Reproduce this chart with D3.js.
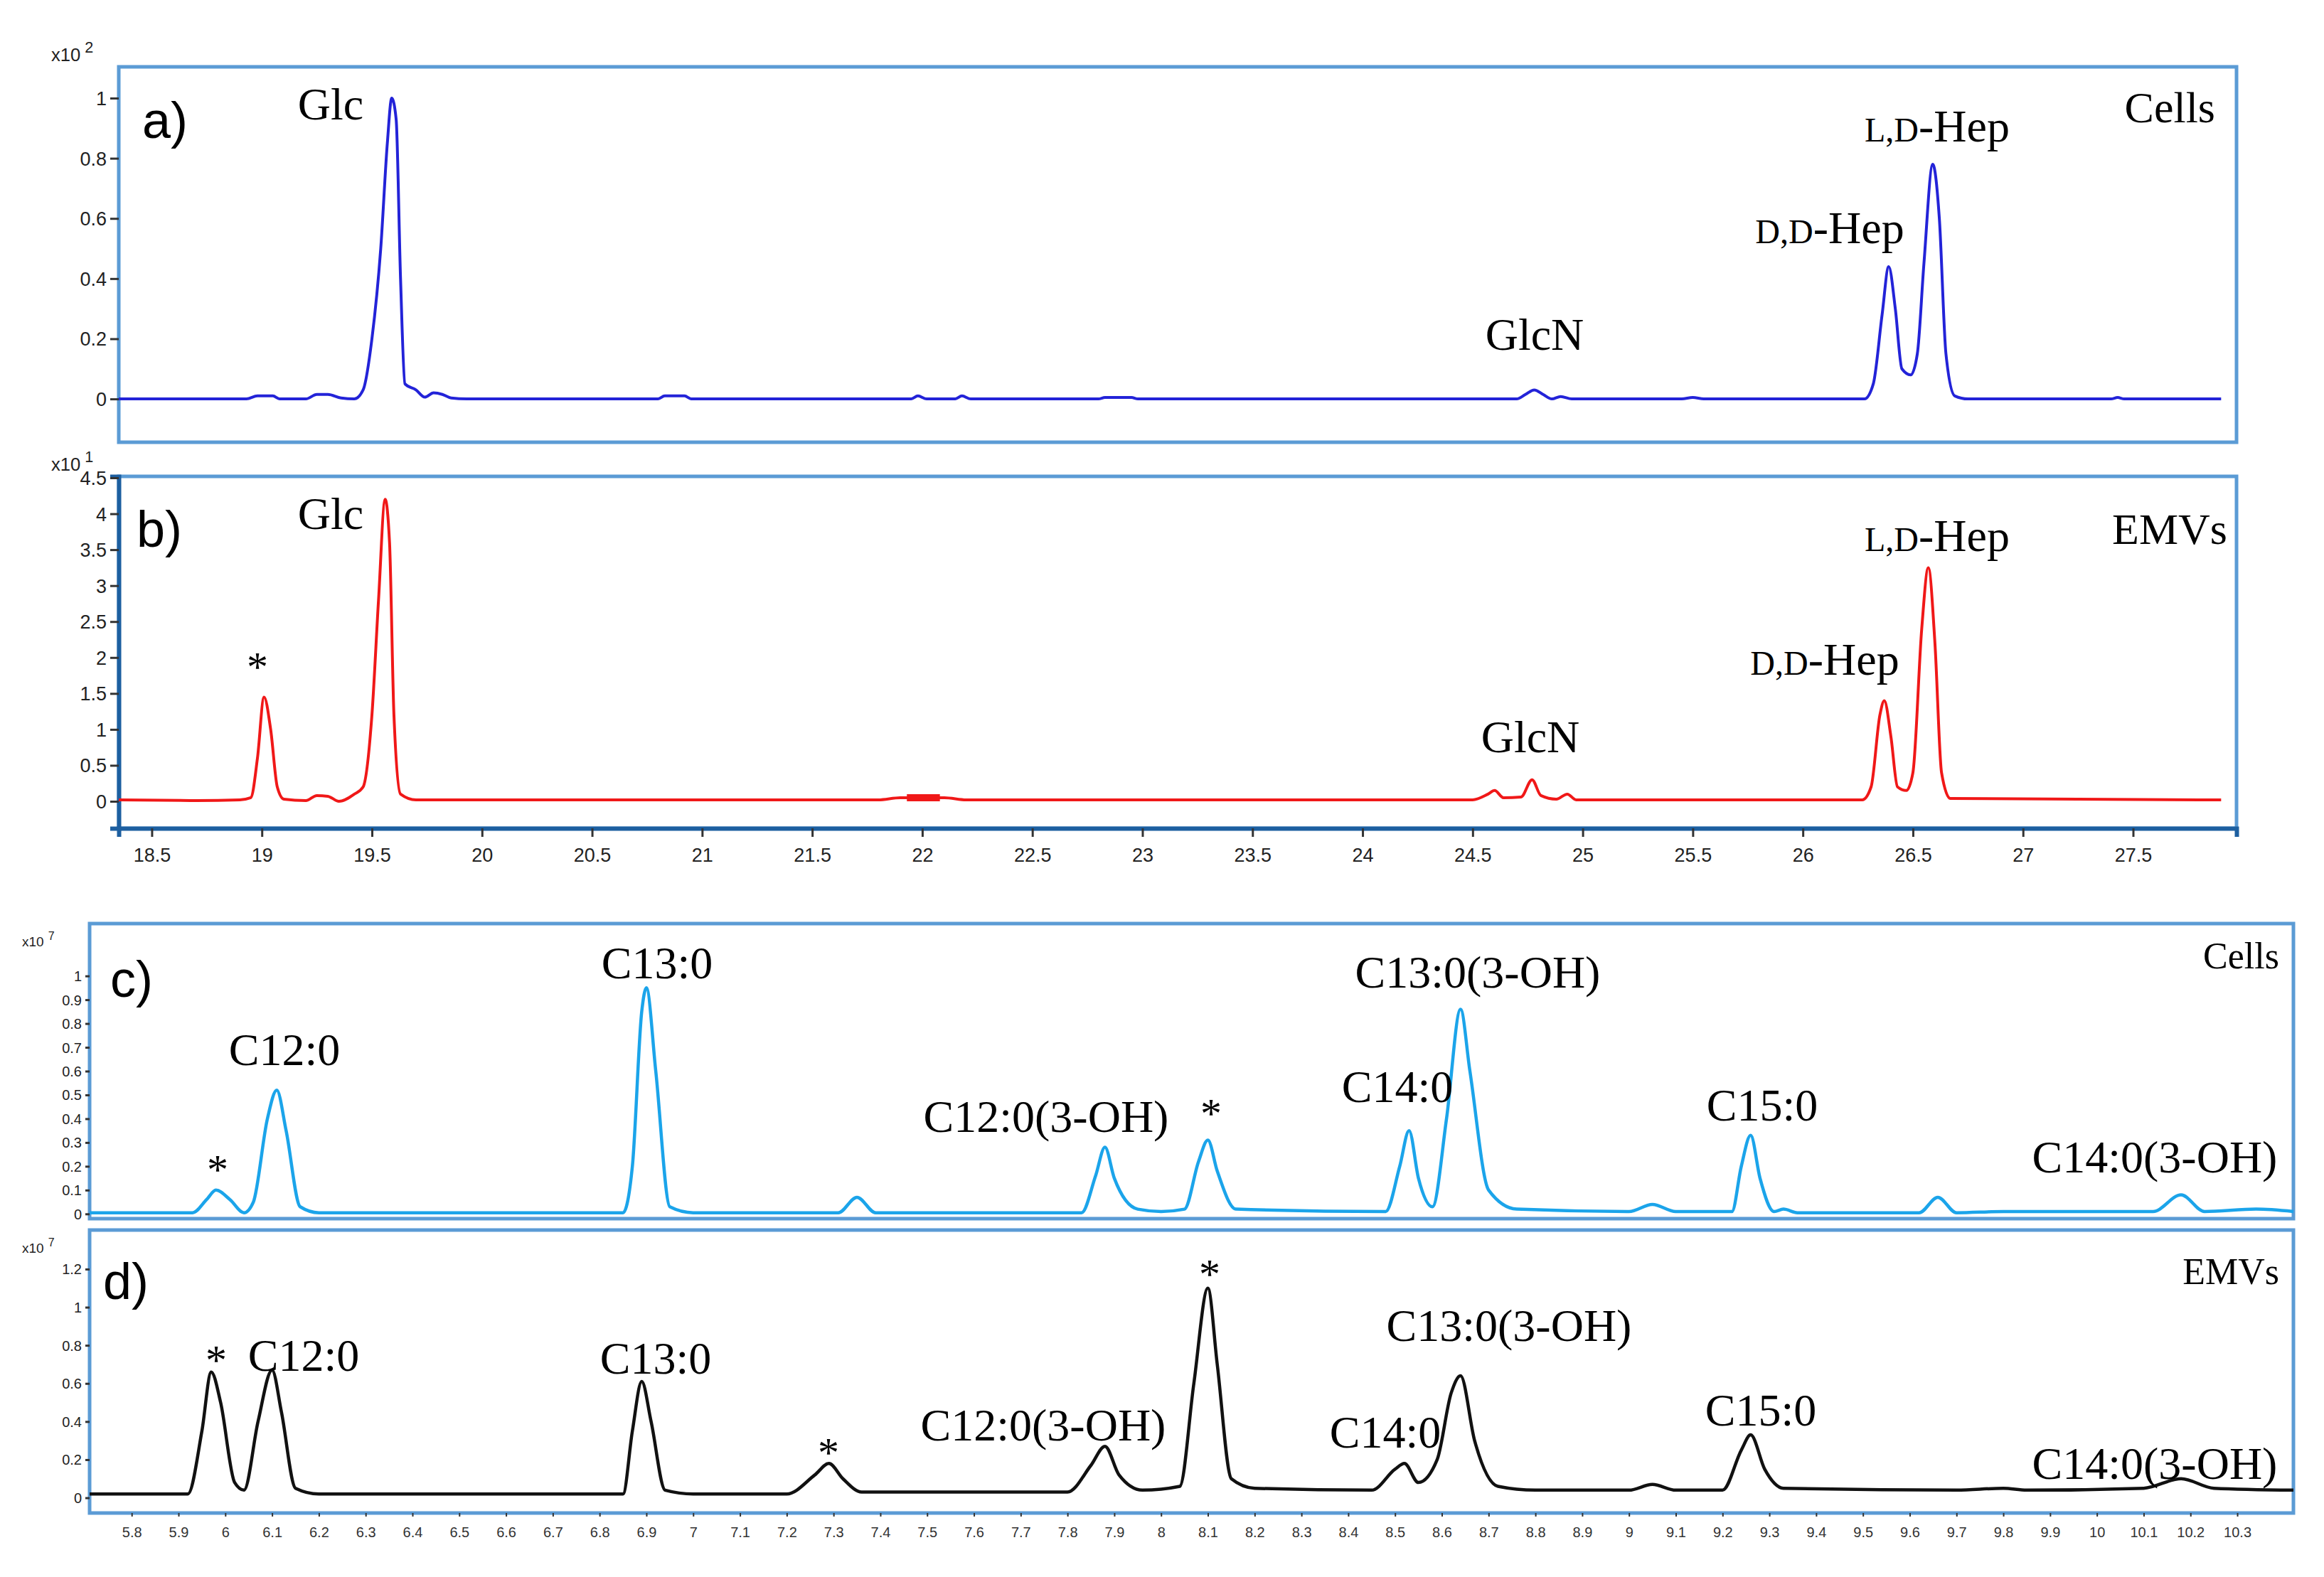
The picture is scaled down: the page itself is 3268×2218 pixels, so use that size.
<!DOCTYPE html>
<html><head><meta charset="utf-8">
<script src="https://cdn.jsdelivr.net/npm/d3@7/dist/d3.min.js"></script>
<style>body{margin:0;background:#fff}</style></head>
<body><svg id="c" width="3268" height="2218"></svg>
<script>
// ---- data (x = retention time in min, y = intensity) ----
const traceA = [[18.35,0],[18.93,0],[18.98,0.01],[19.05,0.01],[19.08,0],[19.2,0],[19.25,0.015],[19.3,0.015],[19.36,0.003],[19.42,0],[19.46,0.03],[19.5,0.2],[19.54,0.5],[19.57,0.85],[19.59,1.0],[19.61,0.93],[19.63,0.4],[19.65,0.05],[19.7,0.03],[19.74,0.006],[19.78,0.02],[19.82,0.015],[19.86,0.003],[19.93,0],[20.8,0],[20.83,0.01],[20.92,0.01],[20.95,0],[21.95,0],[21.98,0.01],[22.02,0],[22.15,0],[22.18,0.01],[22.22,0],[22.8,0],[22.83,0.005],[22.95,0.005],[22.98,0],[24.7,0],[24.74,0.015],[24.78,0.03],[24.82,0.015],[24.86,0],[24.9,0.008],[24.95,0],[25.45,0],[25.5,0.005],[25.55,0],[26.28,0],[26.32,0.05],[26.36,0.28],[26.39,0.44],[26.42,0.3],[26.45,0.1],[26.49,0.08],[26.52,0.15],[26.55,0.45],[26.59,0.78],[26.62,0.6],[26.65,0.15],[26.69,0.01],[26.75,0],[27.0,0],[27.4,0],[27.43,0.005],[27.46,0],[27.9,0]];
const traceB = [[18.35,0.02],[18.7,0.01],[18.9,0.02],[18.95,0.05],[18.98,0.6],[19.01,1.45],[19.04,1.0],[19.07,0.2],[19.1,0.03],[19.2,0.01],[19.25,0.08],[19.3,0.07],[19.35,0.0],[19.42,0.1],[19.46,0.2],[19.5,1.2],[19.53,2.8],[19.56,4.2],[19.58,3.6],[19.6,1.2],[19.63,0.1],[19.7,0.02],[20.5,0.02],[21.8,0.02],[21.9,0.05],[22.1,0.05],[22.2,0.02],[24.5,0.02],[24.57,0.1],[24.6,0.15],[24.64,0.05],[24.72,0.06],[24.77,0.3],[24.81,0.08],[24.88,0.03],[24.93,0.1],[24.97,0.02],[26.27,0.02],[26.31,0.2],[26.35,1.2],[26.37,1.4],[26.4,0.9],[26.43,0.2],[26.47,0.15],[26.5,0.4],[26.54,2.4],[26.57,3.25],[26.6,2.2],[26.63,0.4],[26.67,0.04],[27.9,0.02]];
const traceC = [[5.71,0.005],[5.93,0.005],[5.96,0.06],[5.98,0.1],[6.01,0.06],[6.04,0.005],[6.06,0.05],[6.09,0.4],[6.11,0.52],[6.13,0.35],[6.16,0.03],[6.2,0.005],[6.85,0.005],[6.87,0.2],[6.89,0.85],[6.9,0.95],[6.92,0.6],[6.95,0.03],[7.0,0.005],[7.31,0.005],[7.35,0.07],[7.39,0.005],[7.83,0.005],[7.86,0.16],[7.88,0.28],[7.9,0.15],[7.95,0.02],[8.0,0.01],[8.05,0.02],[8.08,0.22],[8.1,0.31],[8.12,0.18],[8.16,0.02],[8.48,0.01],[8.51,0.2],[8.53,0.35],[8.55,0.15],[8.58,0.03],[8.61,0.4],[8.64,0.86],[8.66,0.6],[8.7,0.1],[8.76,0.02],[9.0,0.01],[9.05,0.04],[9.1,0.01],[9.22,0.01],[9.24,0.2],[9.26,0.33],[9.28,0.15],[9.31,0.01],[9.33,0.02],[9.36,0.005],[9.62,0.005],[9.66,0.07],[9.7,0.005],[9.8,0.01],[10.12,0.01],[10.18,0.08],[10.23,0.01],[10.34,0.02],[10.42,0.01]];
const traceD = [[5.71,0.02],[5.92,0.02],[5.95,0.35],[5.97,0.66],[5.99,0.5],[6.02,0.08],[6.04,0.04],[6.07,0.4],[6.1,0.67],[6.12,0.45],[6.15,0.05],[6.2,0.02],[6.85,0.02],[6.87,0.35],[6.89,0.61],[6.91,0.4],[6.94,0.04],[7.0,0.02],[7.2,0.02],[7.26,0.12],[7.29,0.18],[7.32,0.1],[7.36,0.03],[7.8,0.03],[7.85,0.17],[7.88,0.27],[7.91,0.12],[7.96,0.04],[8.04,0.06],[8.07,0.6],[8.1,1.1],[8.12,0.7],[8.15,0.1],[8.2,0.05],[8.45,0.04],[8.5,0.15],[8.52,0.18],[8.55,0.08],[8.59,0.2],[8.62,0.55],[8.64,0.64],[8.67,0.3],[8.72,0.06],[8.8,0.04],[9.0,0.04],[9.05,0.07],[9.1,0.04],[9.2,0.04],[9.24,0.25],[9.26,0.33],[9.29,0.15],[9.33,0.05],[9.7,0.04],[9.8,0.05],[9.85,0.04],[10.1,0.05],[10.18,0.1],[10.25,0.05],[10.42,0.04]];
const ticksAB_x = [18.5,19,19.5,20,20.5,21,21.5,22,22.5,23,23.5,24,24.5,25,25.5,26,26.5,27,27.5];
const ticksA_y = [0,0.2,0.4,0.6,0.8,1];
const ticksB_y = [0,0.5,1,1.5,2,2.5,3,3.5,4,4.5];
const ticksC_y = [0,0.1,0.2,0.3,0.4,0.5,0.6,0.7,0.8,0.9,1];
const ticksD_y = [0,0.2,0.4,0.6,0.8,1,1.2];
const ticksCD_x = [5.8,5.9,6,6.1,6.2,6.3,6.4,6.5,6.6,6.7,6.8,6.9,7,7.1,7.2,7.3,7.4,7.5,7.6,7.7,7.8,7.9,8,8.1,8.2,8.3,8.4,8.5,8.6,8.7,8.8,8.9,9,9.1,9.2,9.3,9.4,9.5,9.6,9.7,9.8,9.9,10,10.1,10.2,10.3];
const labelsA = [["Glc",465,168],["GlcN",2158,492],["D,D-Hep",2573,342,1],["L,D-Hep",2724,199,1]];
const labelsB = [["Glc",465,744],["*",362,958],["GlcN",2152,1058],["D,D-Hep",2566,949,1],["L,D-Hep",2724,775,1]];
const labelsC = [["*",306,1665],["C12:0",400,1498],["C13:0",924,1376],["C12:0(3-OH)",1471,1592],["*",1703,1586],["C14:0",1965,1550],["C13:0(3-OH)",2078,1389],["C15:0",2478,1576],["C14:0(3-OH)",3030,1649]];
const labelsD = [["*",304,1933],["C12:0",427,1928],["C13:0",922,1932],["*",1165,2063],["C12:0(3-OH)",1467,2026],["*",1701,1812],["C14:0",1948,2036],["C13:0(3-OH)",2122,1886],["C15:0",2476,2005],["C14:0(3-OH)",3030,2080]];

const svg = d3.select("#c");
const frame = "#5b9bd5";
const serif = "Liberation Serif, Times New Roman, serif";
const sans = "Liberation Sans, Arial, sans-serif";

function panel(o){
  const x = d3.scaleLinear().domain(o.xd).range([o.x0,o.x1]);
  const y = d3.scaleLinear().domain(o.yd).range([o.y1,o.y0]);
  svg.append("rect").attr("x",o.x0).attr("y",o.y0).attr("width",o.x1-o.x0).attr("height",o.y1-o.y0)
    .attr("fill","none").attr("stroke",frame).attr("stroke-width",5);
  const ax = svg.append("g").attr("transform",`translate(${o.x0},0)`)
    .call(d3.axisLeft(y).tickValues(o.yt).tickSize(o.tick).tickFormat(d3.format("~g")));
  ax.select(".domain").attr("stroke",o.axcol||frame).attr("stroke-width",o.axcol?6:0);
  ax.selectAll("line").attr("stroke","#333").attr("stroke-width",3);
  ax.selectAll("text").attr("font-family",sans).attr("font-size",o.fs).attr("fill","#222").attr("dx",-2).attr("dy","0.35em").attr("y",0);
  svg.append("path").datum(o.data).attr("fill","none").attr("stroke",o.col).attr("stroke-width",o.sw)
    .attr("d",d3.line().x(d=>x(d[0])).y(d=>y(d[1])).curve(d3.curveMonotoneX));
  svg.append("text").attr("x",o.x0-95).attr("y",o.y0+o.exy).attr("font-family",sans).attr("font-size",o.fs*0.95).attr("fill","#222")
    .text("x10").append("tspan").attr("dy",-o.fs*0.45).attr("dx",6).attr("font-size",o.fs*0.8).text(o.exp);
  svg.append("text").attr("x",o.px).attr("y",o.py).attr("font-family",sans).attr("font-size",72).text(o.pl);
  svg.append("text").attr("x",o.tx).attr("y",o.ty).attr("text-anchor","end").attr("font-family",serif).attr("font-size",o.tfs).text(o.title);
  o.labels.forEach(l=>{
    const t = svg.append("text").attr("x",l[1]).attr("y",l[2]).attr("text-anchor","middle").attr("font-family",serif)
      .attr("font-size",l[0]==="*"?60:o.lfs);
    if(l[3]){ t.append("tspan").attr("font-size",o.lfs*0.75).text(l[0].slice(0,3)); t.append("tspan").text(l[0].slice(3)); }
    else t.text(l[0]);
  });
  return x;
}

panel({x0:167,x1:3145,y0:94,y1:622,xd:[18.35,27.97],yd:[-0.144,1.104],yt:ticksA_y,data:traceA,col:"#2323d8",sw:4,
  fs:27,tick:12,exp:"2",exy:-8,pl:"a)",px:200,py:194,title:"Cells",tx:3115,ty:172,tfs:62,labels:labelsA,lfs:64});
const xb = panel({x0:167,x1:3145,y0:670,y1:1165,xd:[18.35,27.97],yd:[-0.376,4.52],yt:ticksB_y,data:traceB,col:"#f01818",sw:4,
  fs:27,tick:12,exp:"1",exy:-8,pl:"b)",px:192,py:769,title:"EMVs",tx:3132,ty:765,tfs:62,labels:labelsB,lfs:64,axcol:"#1d5fa0"});
svg.append("line").attr("x1",xb(21.93)).attr("x2",xb(22.08)).attr("y1",1122).attr("y2",1122).attr("stroke","#f01818").attr("stroke-width",10);
const gx = svg.append("g").attr("transform","translate(0,1165)").call(d3.axisBottom(xb).tickValues(ticksAB_x).tickSize(12).tickFormat(d3.format("~g")));
gx.select(".domain").attr("stroke","#1d5fa0").attr("stroke-width",6);
gx.selectAll("line").attr("stroke","#333").attr("stroke-width",3);
gx.selectAll("text").attr("font-family",sans).attr("font-size",27).attr("fill","#222").attr("dy","1.2em");

panel({x0:126,x1:3225,y0:1299,y1:1714,xd:[5.71,10.42],yd:[-0.02,1.22],yt:ticksC_y,data:traceC,col:"#1ba4ea",sw:4.5,
  fs:20,tick:6,exp:"7",exy:32,pl:"c)",px:155,py:1402,title:"Cells",tx:3205,ty:1362,tfs:52,labels:labelsC,lfs:64});
const xd = panel({x0:126,x1:3225,y0:1730,y1:2128,xd:[5.71,10.42],yd:[-0.08,1.405],yt:ticksD_y,data:traceD,col:"#111",sw:4.5,
  fs:20,tick:6,exp:"7",exy:32,pl:"d)",px:145,py:1827,title:"EMVs",tx:3205,ty:1806,tfs:52,labels:labelsD,lfs:64});
const gx2 = svg.append("g").attr("transform","translate(0,2128)").call(d3.axisBottom(xd).tickValues(ticksCD_x).tickSize(5).tickFormat(d3.format("~g")));
gx2.select(".domain").attr("stroke","none");
gx2.selectAll("line").attr("stroke","#333").attr("stroke-width",2);
gx2.selectAll("text").attr("font-family",sans).attr("font-size",20).attr("fill","#333").attr("dy","1.3em");
</script></body></html>
